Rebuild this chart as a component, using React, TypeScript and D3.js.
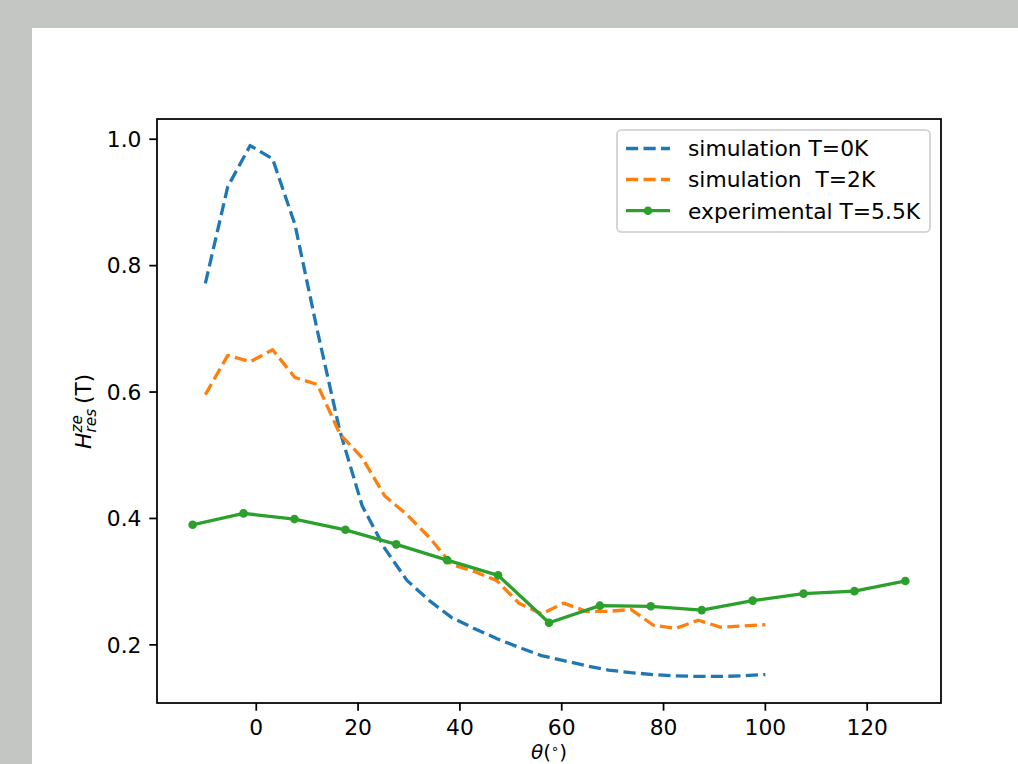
import React from 'react';
import * as d3 from 'd3';

// simulation angles (deg)
const simTheta = [-10, -5.6, -1.2, 3.2, 7.6, 12, 16.4, 20.8, 25.2, 29.6, 34, 38.4, 42.8, 47.2, 51.6, 56, 60.4, 64.8, 69.2, 73.6, 78, 82.4, 86.8, 91.2, 95.6, 100];
const sim0K = [0.772, 0.925, 0.990, 0.969, 0.865, 0.697, 0.539, 0.420, 0.353, 0.302, 0.270, 0.243, 0.226, 0.210, 0.196, 0.183, 0.175, 0.167, 0.160, 0.156, 0.153, 0.151, 0.150, 0.150, 0.151, 0.153];
const sim2K = [0.596, 0.658, 0.648, 0.667, 0.623, 0.612, 0.534, 0.496, 0.436, 0.406, 0.370, 0.327, 0.316, 0.302, 0.266, 0.249, 0.266, 0.253, 0.253, 0.256, 0.231, 0.226, 0.239, 0.228, 0.230, 0.232];

// experiment
const expTheta = [-12.5, -2.5, 7.5, 17.5, 27.5, 37.5, 47.5, 57.5, 67.5, 77.5, 87.5, 97.5, 107.5, 117.5, 127.5];
const exp55K = [0.390, 0.408, 0.399, 0.382, 0.359, 0.334, 0.310, 0.235, 0.262, 0.261, 0.255, 0.270, 0.281, 0.285, 0.301];

const xTicks = [0, 20, 40, 60, 80, 100, 120];
const yTicks = [0.2, 0.4, 0.6, 0.8, 1.0];
const legendLabels = ['simulation T=0K', 'simulation  T=2K', 'experimental T=5.5K'];
const colors = ['#1f77b4', '#ff7f0e', '#2ca02c'];

const W = 1018, H = 764;
const FONT = 'DejaVu Sans, sans-serif';
const FS = 21.8;

export default function App() {
  const left = 157, right = 941, top = 119, bottom = 703;

  // matplotlib style 5% margins
  const xAll = [...simTheta, ...expTheta];
  const yAll = [...sim0K, ...sim2K, ...exp55K];
  const [x0, x1] = d3.extent(xAll) as [number, number];
  const [y0, y1] = d3.extent(yAll) as [number, number];
  const xm = (x1 - x0) * 0.05, ym = (y1 - y0) * 0.05;

  const x = d3.scaleLinear().domain([x0 - xm, x1 + xm]).range([left, right]);
  const y = d3.scaleLinear().domain([y0 - ym, y1 + ym]).range([bottom, top]);

  const line = d3.line<[number, number]>().x(d => x(d[0])).y(d => y(d[1]));
  const zip = (a: number[], b: number[]) => a.map((v, i) => [v, b[i]] as [number, number]);

  const dash = '12.2 5.3';
  const tick = 7.7;

  const legX = 617, legY = 130, legW = 313, legH = 102;
  const rows = [148.5, 179.5, 210.7];

  return (
    <svg width={W} height={H} style={{ position: 'absolute', left: 0, top: 0, display: 'block' }} fontFamily={FONT}>
      <rect x={0} y={0} width={W} height={H} fill="#c4c6c4" />
      <rect x={32} y={28} width={W - 32} height={H - 28} fill="#ffffff" />

      <defs>
        <clipPath id="plotclip">
          <rect x={left} y={top} width={right - left} height={bottom - top} />
        </clipPath>
      </defs>

      <g clipPath="url(#plotclip)">
        <path d={line(zip(simTheta, sim0K)) || ''} fill="none" stroke={colors[0]} strokeWidth={3.3}
          strokeDasharray={dash} strokeLinejoin="round" />
        <path d={line(zip(simTheta, sim2K)) || ''} fill="none" stroke={colors[1]} strokeWidth={3.3}
          strokeDasharray={dash} strokeLinejoin="round" />
        <path d={line(zip(expTheta, exp55K)) || ''} fill="none" stroke={colors[2]} strokeWidth={3.3}
          strokeLinejoin="round" strokeLinecap="square" />
        {expTheta.map((t, i) => (
          <circle key={i} cx={x(t)} cy={y(exp55K[i])} r={4.3} fill={colors[2]} />
        ))}
      </g>

      {/* spines */}
      <rect x={left} y={top} width={right - left} height={bottom - top} fill="none" stroke="#000" strokeWidth={1.75} />

      {/* x ticks */}
      {xTicks.map(t => (
        <g key={t}>
          <line x1={x(t)} x2={x(t)} y1={bottom} y2={bottom + tick} stroke="#000" strokeWidth={1.75} />
          <text x={x(t)} y={735} fontSize={FS} textAnchor="middle" fill="#000">{t}</text>
        </g>
      ))}
      {/* y ticks */}
      {yTicks.map(t => (
        <g key={t}>
          <line x1={left - tick} x2={left} y1={y(t)} y2={y(t)} stroke="#000" strokeWidth={1.75} />
          <text x={141.5} y={y(t)} dy="0.36em" fontSize={FS} textAnchor="end" fill="#000">{t.toFixed(1)}</text>
        </g>
      ))}

      {/* x label: θ(°) */}
      <text x={549} y={759} fontSize={20} textAnchor="middle" fill="#000">
        <tspan fontStyle="italic">θ</tspan>
        <tspan>(</tspan>
        <tspan fontSize={13} dy={-6}>∘</tspan>
        <tspan dy={6}>)</tspan>
      </text>

      {/* y label: H_res^ze (T) */}
      <g transform={`translate(91, ${(top + bottom) / 2}) rotate(-90)`} fill="#000">
        <text x={-38} y={0} fontSize={FS} fontStyle="italic">H</text>
        <text x={-21.5} y={4.5} fontSize={FS * 0.7} fontStyle="italic">res</text>
        <text x={-21.5} y={-9.5} fontSize={FS * 0.7} fontStyle="italic">ze</text>
        <text x={7} y={0} fontSize={FS}>(T)</text>
      </g>

      {/* legend */}
      <rect x={legX} y={legY} width={legW} height={legH} rx={4.4} fill="#fff" fillOpacity={0.8}
        stroke="#cccccc" strokeWidth={1.6} />
      {legendLabels.map((lab, i) => (
        <g key={lab}>
          <line x1={626} x2={670} y1={rows[i]} y2={rows[i]} stroke={colors[i]} strokeWidth={3.3}
            strokeDasharray={i < 2 ? dash : undefined} />
          {i === 2 && <circle cx={648} cy={rows[i]} r={4.3} fill={colors[i]} />}
          <text x={688} y={rows[i]} dy="0.36em" fontSize={FS} fill="#000" style={{ whiteSpace: 'pre' }}>{lab}</text>
        </g>
      ))}
    </svg>
  );
}
